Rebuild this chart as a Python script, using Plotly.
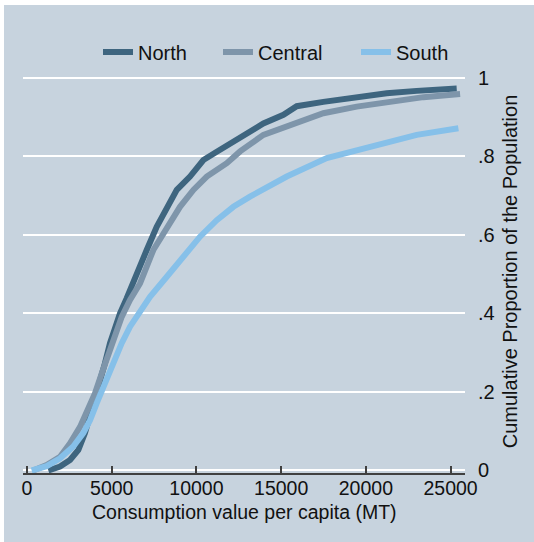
import plotly.graph_objects as go

# ---- data ----
north_x = [1260, 1950, 2540, 3030, 3420, 3720, 4010, 4310, 4600, 4900, 5195, 5490, 5880, 6275, 6670,
           7065, 7655, 8250, 8840, 9620, 10410, 11200, 12575, 13950, 15135, 15920, 17490, 19460,
           21230, 23000, 25360]
north_y = [0, .010, .027, .052, .095, .137, .179, .230, .273, .324, .366, .400, .438, .476, .520,
           .561, .620, .671, .714, .748, .790, .811, .849, .883, .905, .927, .938, .951,
           .960, .966, .972]

central_x = [370, 1160, 1950, 2540, 3130, 3620, 4010, 4410, 4800, 5195, 5590, 6080, 6670, 7455,
             8250, 9030, 9820, 10610, 11790, 12575, 13950, 15725, 17490, 19460, 21430, 23400, 25560]
central_y = [0, .014, .035, .069, .111, .154, .196, .247, .298, .349, .391, .434, .476, .561,
             .620, .671, .714, .748, .782, .812, .854, .883, .909, .926, .938, .950, .958]

south_x = [275, 1160, 1950, 2730, 3320, 3720, 4110, 4600, 5095, 5590, 6080, 6570, 7260, 8250,
           9230, 10210, 11200, 12180, 13160, 15330, 17690, 19070, 21035, 23000, 25460]
south_y = [0, .011, .031, .061, .095, .128, .171, .222, .273, .324, .366, .400, .442, .493,
           .544, .595, .637, .671, .697, .748, .795, .811, .833, .854, .871]

series_names = ["North", "Central", "South"]
series_colors = ["#3e657f", "#7e95aa", "#86c0e9"]

x_ticks = [0, 5000, 10000, 15000, 20000, 25000]
x_ticktext = ["0", "5000", "10000", "15000", "20000", "25000"]
y_ticks = [0, 0.2, 0.4, 0.6, 0.8, 1.0]
y_ticktext = ["0", ".2", ".4", ".6", ".8", "1"]

x_title = "Consumption value per capita (MT)"
y_title = "Cumulative Proportion of the Population"

# ---- figure ----
BG = "#c7d3de"
FONT = "Liberation Sans, Arial, Helvetica, sans-serif"

L, R, T, B = 23, 69, 70, 69
W, H = 534, 542
pw, ph = W - L - R, H - T - B

def px_to_paper_x(p):
    return (p - L) / pw

def px_to_paper_y(p):
    return (H - B - p) / ph

legend_ids = ["legend", "legend2", "legend3"]
legend_left_px = [98, 218, 356]

fig = go.Figure()
for name, xs, ys, col, lid in zip(series_names, [north_x, central_x, south_x],
                                  [north_y, central_y, south_y], series_colors, legend_ids):
    fig.add_trace(go.Scatter(x=xs, y=ys, mode="lines", name=name, legend=lid,
                             line=dict(color=col, width=6)))

legend_layout = {}
for lid, lx in zip(legend_ids, legend_left_px):
    legend_layout[lid] = dict(orientation="h", x=px_to_paper_x(lx), xanchor="left",
                              y=px_to_paper_y(52), yanchor="middle",
                              bgcolor="rgba(0,0,0,0)", borderwidth=0,
                              font=dict(size=20, family=FONT, color="#111111"))

fig.update_layout(
    width=W, height=H,
    margin=dict(l=L, r=R, t=T, b=B, pad=0),
    paper_bgcolor=BG, plot_bgcolor=BG,
    font=dict(family=FONT, size=20, color="#111111"),
    showlegend=True,
    xaxis=dict(range=[-236, 25850], tickvals=x_ticks, ticktext=x_ticktext,
               showgrid=False, zeroline=False, showline=True, linecolor="#404040",
               linewidth=1.5, ticks="inside", ticklen=7, tickwidth=1.5, tickcolor="#404040",
               ticklabelstandoff=-3, tickfont=dict(size=19.5)),
    yaxis=dict(range=[-0.0064, 1.0191], tickvals=y_ticks, ticktext=y_ticktext, side="right",
               showgrid=True, gridcolor="white", gridwidth=1.8, zeroline=False,
               showline=False, ticks="", ticklabelstandoff=12,
               title=dict(text=y_title, standoff=9, font=dict(size=20))),
    annotations=[
        dict(text=x_title, xref="paper", yref="paper", x=0.5, xanchor="center",
             y=px_to_paper_y(512), yanchor="middle", showarrow=False,
             font=dict(size=19.5, family=FONT, color="#111111")),
    ],
    shapes=[
        dict(type="rect", xref="paper", yref="paper", layer="above",
             x0=px_to_paper_x(-5), x1=px_to_paper_x(540), y0=px_to_paper_y(5), y1=px_to_paper_y(-5),
             fillcolor="white", line=dict(width=0)),
        dict(type="rect", xref="paper", yref="paper", layer="above",
             x0=px_to_paper_x(-5), x1=px_to_paper_x(4), y0=px_to_paper_y(548), y1=px_to_paper_y(-5),
             fillcolor="white", line=dict(width=0)),
    ],
    **legend_layout,
)

fig.write_html("out.html")
